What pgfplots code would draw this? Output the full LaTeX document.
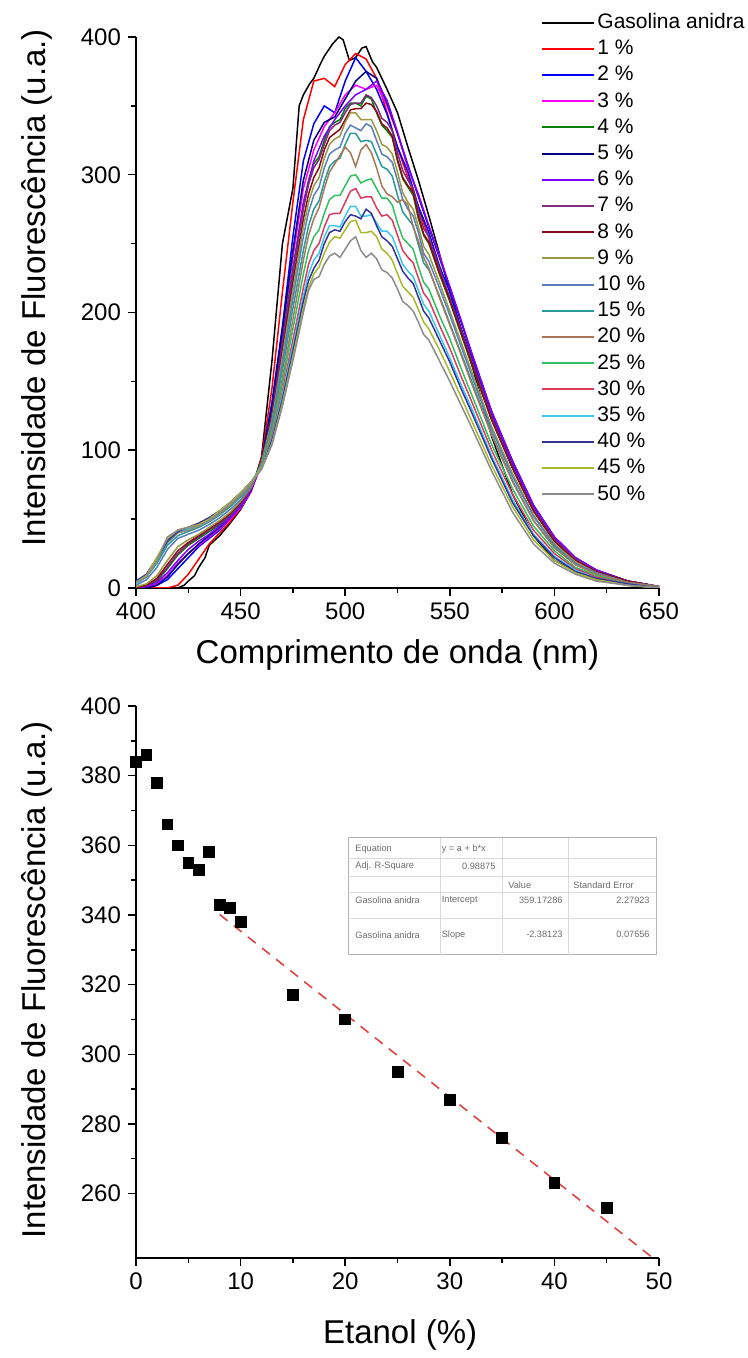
\documentclass[border=0pt]{standalone}
\usepackage{pgfplots}
\pgfplotsset{compat=1.18}
\usepackage{fontspec}
\setmainfont{Liberation Sans}
\definecolor{c1}{HTML}{FF0000}
\definecolor{c2}{HTML}{0000FF}
\definecolor{c3}{HTML}{FF00FF}
\definecolor{c4}{HTML}{008000}
\definecolor{c5}{HTML}{000080}
\definecolor{c6}{HTML}{8000FF}
\definecolor{c7}{HTML}{7B2F7B}
\definecolor{c8}{HTML}{8B0A1A}
\definecolor{c9}{HTML}{999944}
\definecolor{c10}{HTML}{5A7FBF}
\definecolor{c15}{HTML}{2A9A9A}
\definecolor{c20}{HTML}{A3795A}
\definecolor{c25}{HTML}{33C060}
\definecolor{c30}{HTML}{DC3D5F}
\definecolor{c35}{HTML}{3CC8EE}
\definecolor{c40}{HTML}{33339A}
\definecolor{c45}{HTML}{A9B82A}
\definecolor{c50}{HTML}{8C8C8C}
\definecolor{fitred}{HTML}{DD4444}
\pgfplotsset{
  common/.style={
    scale only axis, width=261.5pt,
    axis x line*=bottom, axis y line*=left,
    tick align=outside, major tick length=4pt, minor tick length=2.5pt,
    every tick/.style={black, line width=0.75pt},
    axis line style={line width=0.75pt},
    minor x tick num=1, minor y tick num=1,
    tick label style={font=\fontsize{12}{14}\selectfont},
    /pgf/number format/assume math mode=true,
  }
}
\begin{document}
\begin{tikzpicture}[x=1pt,y=1pt]
\begin{axis}[common,
  at={(68pt,385pt)}, anchor=south west, height=275.5pt,
  xmin=400, xmax=650, ymin=0, ymax=400,
  xtick={400,450,...,650}, ytick={0,100,...,400},
  xlabel={Comprimento de onda (nm)},
  ylabel={Intensidade de Fluorescência (u.a.)},
  every axis x label/.style={at={(axis description cs:0.5,-0.122)}, anchor=center, font=\fontsize{16.5}{19}\selectfont},
  every axis y label/.style={at={(axis description cs:-0.189,0.545)}, rotate=90, anchor=center, font=\fontsize{16.5}{19}\selectfont},
  legend style={at={(axis description cs:0.763,1.058)}, anchor=north west, draw=none, fill=none,
    font=\fontsize{10.5}{12}\selectfont,
    nodes={inner sep=1pt, text height=8.5pt, text depth=2.6pt}, row sep=0pt},
  legend cell align=left,
  legend image code/.code={\draw[#1, line width=1pt] (0pt,0pt) -- (26pt,0pt);},
  no markers,
  every axis plot/.append style={line width=0.75pt},
]
\addplot[black] coordinates {(400,0)(405,0)(410,0)(415,0)(420,0)(423,2)(425,5)(428,9)(430,15)(433,22)(435,31)(440,38)(445,47)(450,57)(455,70)(460,95)(465,165)(470,250)(475,290)(478,350)(480,358)(483,366)(485,370)(488,380)(490,386)(494,395)(497,400)(499,398)(502,383)(505,385)(508,392)(510,393)(513,382)(515,378)(520,362)(525,345)(530,320)(535,296)(540,270)(545,243)(550,215)(555,190)(560,165)(570,110)(580,68)(590,38)(600,20)(610,12)(620,6)(635,2)(650,0)};
\addlegendentry{Gasolina anidra}
\addplot[c1] coordinates {(400,0)(405,0)(410,0)(415,0)(420,2)(425,10)(430,21)(435,32)(440,40)(445,48)(450,58)(455,71)(460,94)(465,145)(470,215)(475,280)(480,340)(485,368)(490,370)(495,364)(500,380)(505,388)(510,384)(515,370)(520,345)(525,320)(530,298)(535,276)(540,254)(545,230)(550,210)(555,188)(560,165)(570,123)(580,87)(590,56)(600,34)(610,20)(620,12)(635,5)(650,1)};
\addlegendentry{1 \%}
\addplot[c2] coordinates {(400,0)(405,0)(410,2)(415,6)(420,14)(425,22)(430,30)(435,36)(440,42)(445,50)(450,59)(455,71)(460,92)(465,135)(470,190)(475,255)(480,310)(485,337)(490,350)(495,345)(500,368)(505,385)(510,375)(515,362)(520,344)(525,320)(530,302)(535,277)(540,258)(545,234)(550,215)(555,190)(560,169)(570,126)(580,90)(590,59)(600,36)(610,21)(620,13)(635,5)(650,1)};
\addlegendentry{2 \%}
\addplot[c3] coordinates {(400,0)(405,0)(410,3)(415,9)(420,18)(425,25)(430,31)(435,37)(440,43)(445,50)(450,58)(455,70)(460,90)(465,130)(470,185)(475,240)(480,290)(485,318)(490,335)(495,345)(500,358)(505,365)(510,362)(515,365)(520,350)(525,330)(530,305)(535,286)(540,262)(545,242)(550,218)(555,196)(560,172)(570,128)(580,92)(590,60)(600,37)(610,22)(620,13)(635,5)(650,1)};
\addlegendentry{3 \%}
\addplot[c4] coordinates {(400,0)(405,1)(410,5)(415,14)(420,24)(425,31)(430,36)(435,41)(440,46)(445,52)(450,60)(455,72)(460,92)(465,128)(470,180)(475,232)(480,278)(482.5,296)(485,308)(487.5,313)(490,325)(492.5,335)(495,338)(497.5,340)(500,348)(502.5,352)(505,352)(507.5,350)(510,357)(512.5,355)(515,345)(517.5,336)(520,332)(522.5,327)(525,310)(527.5,297)(530,291)(532.5,285)(535,268)(537.5,256)(540,250)(545,228)(550,208)(555,186)(560,164)(570,122)(580,87)(590,56)(600,34)(610,20)(620,12)(635,5)(650,1)};
\addlegendentry{4 \%}
\addplot[c5] coordinates {(400,0)(405,0)(410,2)(415,8)(420,17)(425,25)(430,32)(435,38)(440,44)(445,51)(450,59)(455,71)(460,91)(465,132)(470,188)(475,245)(480,296)(485,325)(490,338)(495,342)(500,355)(505,368)(510,375)(515,370)(520,352)(525,330)(530,307)(535,284)(540,262)(545,240)(550,218)(555,195)(560,172)(570,128)(580,92)(590,60)(600,37)(610,22)(620,13)(635,5)(650,1)};
\addlegendentry{5 \%}
\addplot[c6] coordinates {(400,0)(405,1)(410,4)(415,11)(420,20)(425,28)(430,34)(435,39)(440,45)(445,51)(450,59)(455,71)(460,90)(465,126)(470,178)(475,230)(480,280)(485,310)(490,328)(495,340)(500,350)(505,358)(510,362)(515,368)(520,354)(525,331)(530,306)(535,285)(540,263)(545,241)(550,219)(555,196)(560,173)(570,128)(580,92)(590,60)(600,37)(610,22)(620,13)(635,5)(650,1)};
\addlegendentry{6 \%}
\addplot[c7] coordinates {(400,0)(405,2)(410,6)(415,15)(420,25)(425,32)(430,37)(435,42)(440,47)(445,53)(450,61)(455,72)(460,91)(465,125)(470,175)(475,228)(480,275)(482.5,293)(485,305)(487.5,311)(490,322)(492.5,332)(495,336)(497.5,338)(500,345)(502.5,351)(505,352)(507.5,352)(510,358)(512.5,356)(515,350)(517.5,341)(520,338)(522.5,332)(525,316)(527.5,303)(530,296)(532.5,290)(535,274)(537.5,261)(540,255)(545,232)(550,211)(555,189)(560,167)(570,124)(580,88)(590,57)(600,35)(610,21)(620,12)(635,5)(650,1)};
\addlegendentry{7 \%}
\addplot[c8] coordinates {(400,0)(405,2)(410,7)(415,17)(420,27)(425,33)(430,38)(435,43)(440,48)(445,54)(450,62)(455,73)(460,92)(465,124)(470,172)(475,222)(480,268)(482.5,286)(485,298)(487.5,305)(490,318)(492.5,327)(495,330)(497.5,333)(500,340)(502.5,347)(505,348)(507.5,348)(510,352)(512.5,351)(515,346)(517.5,337)(520,334)(522.5,328)(525,311)(527.5,298)(530,292)(532.5,287)(535,270)(537.5,257)(540,251)(545,229)(550,209)(555,187)(560,165)(570,122)(580,87)(590,56)(600,34)(610,20)(620,12)(635,5)(650,1)};
\addlegendentry{8 \%}
\addplot[c9] coordinates {(400,1)(405,3)(410,9)(415,20)(420,30)(425,35)(430,39)(435,44)(440,49)(445,55)(450,63)(455,73)(460,91)(465,122)(470,168)(475,216)(480,262)(482.5,280)(485,292)(487.5,298)(490,312)(492.5,322)(495,326)(497.5,328)(500,338)(502.5,345)(505,345)(507.5,340)(510,340)(512.5,340)(515,332)(517.5,322)(520,320)(522.5,315)(525,302)(527.5,287)(530,280)(532.5,275)(535,262)(537.5,248)(540,242)(545,222)(550,201)(555,180)(560,159)(570,117)(580,83)(590,53)(600,32)(610,19)(620,11)(635,4)(650,1)};
\addlegendentry{9 \%}
\addplot[c10] coordinates {(400,2)(405,6)(410,15)(415,28)(420,36)(425,39)(430,42)(435,46)(440,51)(445,57)(450,64)(455,74)(460,90)(465,120)(470,163)(475,210)(480,255)(482.5,273)(485,285)(487.5,291)(490,305)(492.5,315)(495,318)(497.5,320)(500,330)(502.5,336)(505,334)(507.5,332)(510,337)(512.5,335)(515,325)(517.5,315)(520,313)(522.5,309)(525,296)(527.5,282)(530,275)(532.5,270)(535,258)(537.5,243)(540,237)(545,218)(550,198)(555,177)(560,156)(570,115)(580,81)(590,52)(600,31)(610,18)(620,11)(635,4)(650,1)};
\addlegendentry{10 \%}
\addplot[c15] coordinates {(400,3)(405,8)(410,18)(415,31)(420,38)(425,41)(430,44)(435,48)(440,53)(445,59)(450,66)(455,75)(460,90)(465,118)(470,158)(475,203)(480,245)(482.5,263)(485,275)(487.5,281)(490,295)(492.5,306)(495,310)(497.5,312)(500,322)(502.5,330)(505,330)(507.5,324)(510,325)(512.5,324)(515,315)(517.5,306)(520,304)(522.5,299)(525,285)(527.5,273)(530,268)(532.5,263)(535,249)(537.5,236)(540,231)(545,212)(550,192)(555,172)(560,152)(570,112)(580,78)(590,49)(600,30)(610,17)(620,10)(635,4)(650,1)};
\addlegendentry{15 \%}
\addplot[c20] coordinates {(400,3)(405,9)(410,20)(415,33)(420,40)(425,42)(430,45)(435,49)(440,54)(445,60)(450,67)(455,75)(460,89)(465,115)(470,152)(475,195)(480,238)(482.5,256)(485,268)(487.5,276)(490,290)(492.5,302)(495,308)(497.5,314)(500,320)(502.5,316)(505,306)(507.5,318)(510,322)(512.5,316)(515,305)(517.5,292)(520,286)(522.5,284)(525,280)(527.5,282)(530,278)(532.5,262)(535,252)(537.5,240)(540,232)(545,211)(550,191)(555,171)(560,150)(570,111)(580,77)(590,49)(600,29)(610,17)(620,10)(635,4)(650,1)};
\addlegendentry{20 \%}
\addplot[c25] coordinates {(400,3)(405,9)(410,20)(415,34)(420,41)(425,43)(430,46)(435,50)(440,55)(445,61)(450,68)(455,76)(460,89)(465,113)(470,148)(475,188)(480,228)(482.5,245)(485,255)(487.5,260)(490,272)(492.5,282)(495,285)(497.5,285)(500,292)(502.5,299)(505,300)(507.5,294)(510,296)(512.5,297)(515,290)(517.5,283)(520,283)(522.5,278)(525,265)(527.5,254)(530,250)(532.5,246)(535,233)(537.5,222)(540,217)(545,198)(550,181)(555,161)(560,142)(570,104)(580,72)(590,45)(600,27)(610,15)(620,9)(635,3)(650,0)};
\addlegendentry{25 \%}
\addplot[c30] coordinates {(400,3)(405,10)(410,22)(415,35)(420,42)(425,44)(430,47)(435,51)(440,56)(445,62)(450,69)(455,76)(460,88)(465,110)(470,143)(475,180)(480,218)(482.5,235)(485,245)(487.5,250)(490,262)(492.5,271)(495,272)(497.5,272)(500,280)(502.5,288)(505,290)(507.5,283)(510,284)(512.5,284)(515,276)(517.5,270)(520,271)(522.5,267)(525,256)(527.5,245)(530,240)(532.5,236)(535,225)(537.5,214)(540,209)(545,191)(550,174)(555,155)(560,137)(570,100)(580,68)(590,42)(600,25)(610,14)(620,8)(635,3)(650,0)};
\addlegendentry{30 \%}
\addplot[c35] coordinates {(400,3)(405,9)(410,21)(415,34)(420,41)(425,43)(430,46)(435,51)(440,56)(445,62)(450,69)(455,77)(460,88)(465,108)(470,140)(475,175)(480,212)(482.5,228)(485,238)(487.5,243)(490,255)(492.5,263)(495,263)(497.5,262)(500,270)(502.5,277)(505,277)(507.5,270)(510,270)(512.5,271)(515,265)(517.5,259)(520,259)(522.5,255)(525,245)(527.5,235)(530,230)(532.5,226)(535,216)(537.5,206)(540,201)(545,184)(550,167)(555,149)(560,132)(570,96)(580,64)(590,39)(600,23)(610,13)(620,7)(635,3)(650,0)};
\addlegendentry{35 \%}
\addplot[c40] coordinates {(400,5)(405,10)(410,21)(415,34)(420,41)(425,44)(430,47)(435,51)(440,56)(445,62)(450,69)(455,77)(460,87)(465,107)(470,137)(475,172)(480,208)(482.5,223)(485,232)(487.5,238)(490,250)(492.5,258)(495,260)(497.5,259)(500,266)(502.5,271)(505,270)(507.5,268)(510,275)(512.5,272)(515,263)(517.5,255)(520,252)(522.5,248)(525,239)(527.5,230)(530,225)(532.5,221)(535,211)(537.5,201)(540,196)(545,180)(550,164)(555,146)(560,129)(570,94)(580,62)(590,38)(600,22)(610,12)(620,7)(635,3)(650,0)};
\addlegendentry{40 \%}
\addplot[c45] coordinates {(400,4)(405,9)(410,22)(415,36)(420,42)(425,44)(430,46)(435,50)(440,56)(445,62)(450,69)(455,77)(460,87)(465,105)(470,134)(475,168)(480,203)(482.5,218)(485,228)(487.5,233)(490,243)(492.5,251)(495,255)(497.5,254)(500,260)(502.5,266)(505,267)(507.5,258)(510,258)(512.5,259)(515,255)(517.5,246)(520,243)(522.5,238)(525,228)(527.5,219)(530,215)(532.5,211)(535,202)(537.5,193)(540,188)(545,173)(550,157)(555,140)(560,123)(570,89)(580,59)(590,35)(600,20)(610,11)(620,6)(635,2)(650,0)};
\addlegendentry{45 \%}
\addplot[c50] coordinates {(400,4)(405,8)(410,20)(415,37)(420,42)(425,44)(430,45)(435,49)(440,55)(445,61)(450,68)(455,76)(460,86)(465,104)(470,132)(475,165)(480,200)(482.5,216)(485,224)(487.5,226)(490,235)(492.5,241)(495,243)(497.5,240)(500,246)(502.5,252)(505,255)(507.5,245)(510,240)(512.5,243)(515,239)(517.5,231)(520,229)(522.5,225)(525,217)(527.5,208)(530,205)(532.5,201)(535,193)(537.5,184)(540,180)(545,165)(550,150)(555,134)(560,118)(570,85)(580,55)(590,32)(600,18)(610,10)(620,5)(635,2)(650,0)};
\addlegendentry{50 \%}
\end{axis}

\begin{axis}[common,
  at={(68pt,50pt)}, anchor=south west, height=276pt,
  xmin=0, xmax=50, ymin=241.5, ymax=400,
  xtick={0,10,...,50}, ytick={260,280,...,400},
  xlabel={Etanol (\%)},
  ylabel={Intensidade de Fluorescência (u.a.)},
  every axis x label/.style={at={(axis description cs:0.505,-0.14)}, anchor=center, font=\fontsize{16.5}{19}\selectfont},
  every axis y label/.style={at={(axis description cs:-0.189,0.504)}, rotate=90, anchor=center, font=\fontsize{16.5}{19}\selectfont},
]
\addplot[only marks, mark=square*, mark size=2.7pt, black] coordinates {(0,384)(1,386)(2,378)(3,366)(4,360)(5,355)(6,353)(7,358)(8,343)(9,342)(10,338)(15,317)(20,310)(25,295)(30,287)(35,276)(40,263)(45,256)(50,241)};
\addplot[fitred, line width=0.8pt, dash pattern=on 5pt off 4pt] coordinates {(8,340.12)(50,240.11)};
\draw[gray!60, line width=0.4pt] (axis cs:20.27,362.13) rectangle (axis cs:49.71,328.57);
\draw[gray!30, line width=0.3pt] (axis cs:20.27,356.39) -- (axis cs:49.71,356.39)
  (axis cs:20.27,351.23) -- (axis cs:49.71,351.23)
  (axis cs:20.27,346.64) -- (axis cs:49.71,346.64)
  (axis cs:20.27,339.18) -- (axis cs:49.71,339.18)
  (axis cs:29.06,362.13) -- (axis cs:29.06,328.57)
  (axis cs:34.99,362.13) -- (axis cs:34.99,328.57)
  (axis cs:41.30,362.13) -- (axis cs:41.30,328.57);
\begin{scope}[every node/.style={font=\fontsize{4.6}{5}\selectfont, text=gray!85!black, inner sep=0pt}]
\node[anchor=west] at (axis cs:20.94,358.97) {Equation};
\node[anchor=west] at (axis cs:29.2,358.97) {y = a + b*x};
\node[anchor=west] at (axis cs:20.94,353.9) {Adj. R-Square};
\node[anchor=east] at (axis cs:34.4,353.9) {0.98875};
\node[anchor=west] at (axis cs:35.56,348.65) {Value};
\node[anchor=west] at (axis cs:41.78,348.65) {Standard Error};
\node[anchor=west] at (axis cs:20.94,344.3) {Gasolina anidra};
\node[anchor=west] at (axis cs:29.2,344.3) {Intercept};
\node[anchor=east] at (axis cs:40.82,344.3) {359.17286};
\node[anchor=east] at (axis cs:49.14,344.3) {2.27923};
\node[anchor=west] at (axis cs:20.94,334.3) {Gasolina anidra};
\node[anchor=west] at (axis cs:29.2,334.3) {Slope};
\node[anchor=east] at (axis cs:40.82,334.3) {-2.38123};
\node[anchor=east] at (axis cs:49.14,334.3) {0.07656};
\end{scope}
\end{axis}
\pgfresetboundingbox
\path[use as bounding box] (0,0) rectangle (374,679);
\end{tikzpicture}
\end{document}
